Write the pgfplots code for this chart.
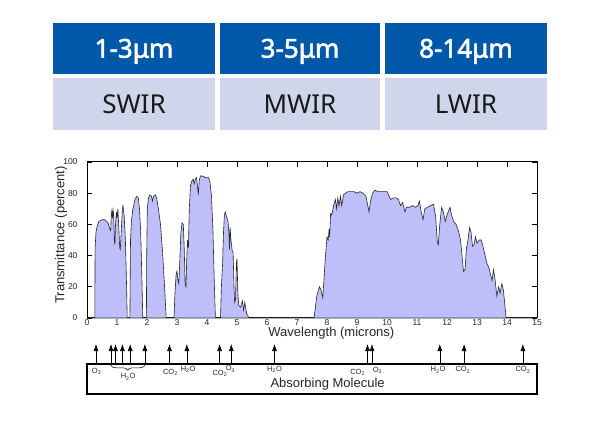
\documentclass[border=0pt]{standalone}
\usepackage{fontspec}
\setmainfont{Liberation Sans}
\newfontfamily\tabfont{Noto Sans}
\newfontfamily\tabbold{Noto Sans}[FakeBold=2.2]
\usepackage{pgfplots}
\pgfplotsset{compat=1.18}
\usetikzlibrary{arrows.meta,decorations.pathreplacing}
\definecolor{hdrblue}{RGB}{0,89,168}
\definecolor{rowlav}{RGB}{207,214,235}
\definecolor{fillc}{RGB}{190,190,250}
\definecolor{linec}{RGB}{40,40,40}
\begin{document}
\begin{tikzpicture}
\begin{scope}[x=1pt,y=1pt]
\useasboundingbox[fill=white] (0,0) rectangle (600,425);
\fill[hdrblue] (53,350.7) rectangle (215,402.3);
\fill[hdrblue] (220,350.7) rectangle (380,402.3);
\fill[hdrblue] (385,350.7) rectangle (547,402.3);
\fill[rowlav] (53,295) rectangle (215,346.7);
\fill[rowlav] (220,295) rectangle (380,346.7);
\fill[rowlav] (385,295) rectangle (547,346.7);
\node[anchor=base, text=white, font=\tabbold\fontsize{26}{30}\selectfont] at (134,367.3) {1-3μm};
\node[anchor=base, text=white, font=\tabbold\fontsize{26}{30}\selectfont] at (300,367.3) {3-5μm};
\node[anchor=base, text=white, font=\tabbold\fontsize{26}{30}\selectfont] at (466,367.3) {8-14μm};
\node[anchor=base, text=black!90, font=\tabfont\fontsize{26}{30}\selectfont] at (134,311.7) {SWIR};
\node[anchor=base, text=black!90, font=\tabfont\fontsize{26}{30}\selectfont] at (300,311.7) {MWIR};
\node[anchor=base, text=black!90, font=\tabfont\fontsize{26}{30}\selectfont] at (466,311.7) {LWIR};
\end{scope}
\begin{axis}[
  at={(87pt,107pt)}, anchor=south west,
  width=450pt, height=156pt, scale only axis,
  xmin=0, xmax=15, ymin=0, ymax=100,
  xtick={0,...,15}, ytick={0,20,...,100},
  xtick pos=right, xticklabel pos=left,
  ytick pos=both, yticklabel pos=left,
  tick align=inside, major tick length=5pt,
  tick style={black, line width=0.6pt},
  axis line style={line width=1pt},
  /pgf/number format/assume math mode=true,
  ticklabel style={font=\fontsize{8.5}{9}\selectfont, text=black!85},
  xticklabel style={inner sep=1.5pt},
  yticklabel style={xshift=-6pt},
  xlabel={Wavelength (microns)},
  xlabel style={at={(axis description cs:0.543,-0.1)}, anchor=center, font=\fontsize{13}{15}\selectfont, text=black!85},
  ylabel={Transmittance (percent)},
  ylabel style={at={(axis description cs:-0.058,0.532)}, anchor=center, font=\fontsize{13}{15}\selectfont, text=black!85},
  clip=false,
]
\addplot[fill=fillc, draw=linec, line width=0.6pt] coordinates {
(0,0) (0.26,0) (0.27,45) (0.3,55) (0.34,59) (0.4,62) (0.5,63) (0.6,63) (0.7,61) (0.76,57) (0.79,56)
(0.81,66) (0.83,69) (0.85,64) (0.87,69) (0.89,66) (0.91,50) (0.93,47) (0.95,60) (0.98,68) (1.0,64)
(1.03,70) (1.06,58) (1.09,45) (1.11,44) (1.14,55) (1.18,70) (1.2,72) (1.24,65) (1.28,50) (1.32,20) (1.34,0)
(1.43,0) (1.45,50) (1.48,62) (1.53,70) (1.6,76) (1.66,78) (1.71,77) (1.75,70) (1.79,55) (1.83,25) (1.86,0)
(1.98,0) (1.99,40) (2.01,70) (2.05,77) (2.1,79) (2.15,78) (2.18,75) (2.22,78) (2.28,79) (2.32,77)
(2.38,70) (2.45,60) (2.52,42) (2.58,22) (2.64,0)
(2.9,0) (2.93,15) (2.97,28) (3.0,30) (3.03,24) (3.06,22) (3.09,35) (3.13,55) (3.17,61) (3.21,60)
(3.24,45) (3.27,22) (3.3,20) (3.32,35) (3.35,50) (3.38,45) (3.41,70) (3.45,85) (3.5,88) (3.54,89)
(3.57,86) (3.61,89) (3.65,90) (3.69,83) (3.71,79) (3.74,88) (3.78,91) (3.85,91) (3.95,90) (4.05,90)
(4.1,87) (4.15,78) (4.2,55) (4.24,25) (4.28,0)
(4.45,0) (4.48,20) (4.52,35) (4.55,55) (4.58,66) (4.61,68) (4.65,65) (4.7,62) (4.73,55) (4.75,44)
(4.77,58) (4.8,50) (4.84,43) (4.87,42) (4.9,20) (4.92,10) (4.95,12) (4.98,35) (5.0,38) (5.03,15)
(5.06,8) (5.12,7) (5.18,11) (5.22,5) (5.26,10) (5.32,3) (5.4,0)
(7.57,0) (7.62,8) (7.66,14) (7.7,17) (7.75,20) (7.8,18) (7.86,13) (7.9,25) (7.95,40) (8.0,52)
(8.04,50) (8.07,57) (8.09,52) (8.12,67) (8.16,66) (8.22,72) (8.28,76) (8.32,70) (8.36,77) (8.4,72)
(8.45,78) (8.49,72) (8.55,79) (8.62,80) (8.7,81) (8.8,81) (8.9,81) (9.0,80) (9.1,81) (9.2,80)
(9.3,78) (9.36,72) (9.4,68) (9.45,75) (9.52,80) (9.6,82) (9.7,81) (9.8,81) (9.9,81) (10.0,81)
(10.07,78) (10.12,76) (10.2,77) (10.3,77) (10.38,76) (10.45,72) (10.52,74) (10.6,68) (10.65,71)
(10.75,71) (10.85,72) (10.95,71) (11.03,72) (11.08,75) (11.14,68) (11.2,63) (11.26,70) (11.35,71)
(11.45,72) (11.55,73) (11.62,65) (11.68,48) (11.71,47) (11.76,60) (11.82,71) (11.88,68) (11.94,62)
(12.0,66) (12.1,71) (12.15,66) (12.22,62) (12.3,60) (12.38,56) (12.45,50) (12.5,40) (12.55,30)
(12.6,31) (12.65,45) (12.7,50) (12.75,58) (12.8,55) (12.85,46) (12.9,47) (12.95,52) (13.0,48)
(13.08,50) (13.14,50) (13.2,46) (13.27,40) (13.33,35) (13.4,32) (13.45,28) (13.5,24) (13.55,31)
(13.6,25) (13.66,14) (13.72,20) (13.77,16) (13.83,22) (13.88,18) (13.93,8) (13.97,0) (15,0)
} \closedcycle;
\addplot[black, line width=0.6pt, -{Latex[length=7pt,width=5pt]}, quiver={u=0,v=12.8}]
table[row sep=\\] {x y\\ 0.3 -29.5\\ 0.8 -29.5\\ 0.95 -29.5\\ 1.18 -29.5\\ 1.44 -29.5\\ 1.93 -29.5\\
2.75 -29.5\\ 3.33 -29.5\\ 4.42 -29.5\\ 4.81 -29.5\\ 6.25 -29.5\\ 9.35 -29.5\\ 9.5 -29.5\\
11.76 -29.5\\ 12.57 -29.5\\ 14.53 -29.5\\};
\draw[line width=1.1pt] (axis cs:0,-29.5) rectangle (axis cs:15,-48.7);
\draw[decorate, decoration={brace, mirror, amplitude=5pt}, line width=0.5pt] (axis cs:0.79,-30.3) -- (axis cs:1.93,-30.3);
\begin{scope}[every node/.style={font=\fontsize{7.5}{8}\selectfont, inner sep=0pt, text=black!85}]
\node at (axis cs:0.32,-34.3) {O\textsubscript{3}};
\node at (axis cs:1.37,-37.8) {H\textsubscript{2}O};
\node at (axis cs:2.78,-35) {CO\textsubscript{2}};
\node at (axis cs:3.37,-33) {H\textsubscript{2}O};
\node at (axis cs:4.43,-35.6) {CO\textsubscript{2}};
\node at (axis cs:4.78,-32.7) {O\textsubscript{3}};
\node at (axis cs:6.25,-33) {H\textsubscript{2}O};
\node at (axis cs:9.02,-35) {CO\textsubscript{2}};
\node at (axis cs:9.68,-33.5) {O\textsubscript{3}};
\node at (axis cs:11.7,-33.3) {H\textsubscript{2}O};
\node at (axis cs:12.53,-33.3) {CO\textsubscript{2}};
\node at (axis cs:14.53,-33.3) {CO\textsubscript{2}};
\end{scope}
\node[font=\fontsize{13}{15}\selectfont, text=black!85] at (axis cs:8.02,-42.3) {Absorbing Molecule};
\end{axis}
\end{tikzpicture}
\end{document}
